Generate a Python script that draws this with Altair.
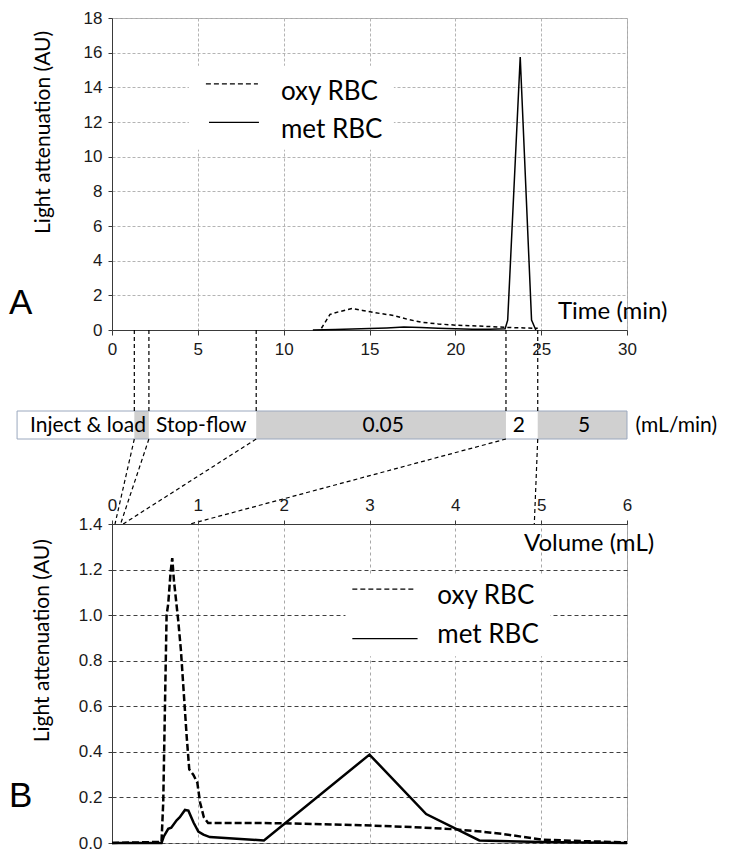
import altair as alt
import pandas as pd

# ---------------- values ----------------
# Panel A : light attenuation (AU) against time (min)
a_oxy_time = [12.2, 12.7, 13.2, 14.0, 14.6, 15.3, 16.4, 17.2, 18.0, 19.0, 20.0, 21.0, 22.0, 23.0, 24.0, 24.8]
a_oxy_att = [0.10, 0.90, 1.05, 1.24, 1.13, 1.00, 0.84, 0.62, 0.45, 0.35, 0.28, 0.24, 0.20, 0.15, 0.12, 0.10]
a_met_time = [11.7, 13.0, 15.0, 16.0, 17.0, 18.0, 19.0, 20.0, 21.0, 22.0, 22.9, 23.05, 23.78, 24.44, 24.69]
a_met_att = [0.00, 0.03, 0.08, 0.12, 0.17, 0.15, 0.10, 0.07, 0.05, 0.05, 0.07, 0.57, 15.75, 0.57, 0.00]

# Panel B : light attenuation (AU) against volume (mL)
b_oxy_vol = [0.0, 0.577, 0.597, 0.636, 0.655, 0.683, 0.702, 0.722, 0.772, 0.803, 0.87, 0.90,
             0.947, 0.994, 1.026, 1.07, 1.12, 2.0, 2.9, 3.5, 4.0, 4.3, 4.55, 5.0, 5.5, 6.0]
b_oxy_att = [0.0, 0.005, 0.18, 1.00, 1.05, 1.19, 1.25, 1.15, 0.975, 0.845, 0.468, 0.323,
             0.30, 0.265, 0.178, 0.113, 0.088, 0.087, 0.078, 0.07, 0.06, 0.05, 0.04, 0.015, 0.008, 0.003]
b_met_vol = [0.0, 0.577, 0.605, 0.655, 0.69, 0.753, 0.79, 0.85, 0.89, 0.95, 1.006, 1.065,
             1.14, 1.77, 3.0, 3.66, 4.28, 5.0, 6.0]
b_met_att = [0.0, 0.0, 0.03, 0.062, 0.067, 0.10, 0.113, 0.145, 0.142, 0.09, 0.05, 0.037,
             0.026, 0.011, 0.388, 0.127, 0.011, 0.004, 0.0]

# Flow programme bar (time, min) and its labels
seg_labels = ["Inject & load", "", "Stop-flow", "0.05", "2", "5"]
seg_start = [-5.53, 1.3, 2.15, 8.4, 22.95, 24.8]
seg_end = [1.3, 2.15, 8.4, 22.95, 24.8, 30.0]
seg_shaded = [False, True, False, True, False, True]
seg_label_time = [-1.4, 1.7, 5.2, 15.8, 23.7, 27.5]
flow_unit = "(mL/min)"

# Connections: phase boundaries on the time axis -> volume axis
link_time = [1.3, 2.15, 8.4, 22.95, 24.8]
link_vol = [0.035, 0.10, 0.13, 0.91, 4.92]

series_names = ["oxy RBC", "met RBC"]
y_title = "Light attenuation (AU)"

# ---------------- layout / style ----------------
W, HA, HM, HB = 515, 312, 194, 319
BAR_TOP, BAR_BOT, BAR_TXT = 81, 109, 102
AX_FONT = "Liberation Sans"
TX_FONT = "Lato"
DARK = "#3a3a3a"
LBL = dict(labelFont=AX_FONT, labelFontSize=17, labelColor="#1a1a1a")

# ================= Panel A =================
xa = alt.Scale(domain=[0, 30], nice=False, zero=False)
ya = alt.Scale(domain=[0, 18], nice=False)
ax_ax = alt.Axis(values=[0, 5, 10, 15, 20, 25, 30], title=None, grid=True, gridColor="#b4b4b4",
                 gridDash=[3, 2], domainColor=DARK, tickColor=DARK, tickSize=5, labelPadding=6,
                 labelFlush=False, **LBL)
ax_ay = alt.Axis(values=list(range(0, 19, 2)), title=None, grid=True, gridColor="#b4b4b4",
                 gridDash=[3, 2], domainColor=DARK, tickColor=DARK, tickSize=4, labelPadding=6, **LBL)
XA = alt.X("t:Q", scale=xa, axis=ax_ax)
YA = alt.Y("v:Q", scale=ya, axis=ax_ay)

a_oxy = alt.Chart(pd.DataFrame({"t": a_oxy_time, "v": a_oxy_att})).mark_line(
    color="black", strokeWidth=1.5, strokeDash=[4, 3]).encode(x=XA, y=YA)
a_met = alt.Chart(pd.DataFrame({"t": a_met_time, "v": a_met_att})).mark_line(
    color="black", strokeWidth=1.5).encode(x=XA, y=YA)

a_leg_bg = alt.Chart(pd.DataFrame({"t": [4.48], "t2": [16.42], "v": [10.4], "v2": [15.25]})).mark_rect(
    fill="white").encode(x=XA, x2="t2", y=YA, y2="v2")
a_leg_dash = alt.Chart(pd.DataFrame({"t": [5.47], "t2": [8.5], "v": [14.2]})).mark_rule(
    color="black", strokeWidth=1.2, strokeDash=[5, 3]).encode(x=XA, x2="t2", y=YA)
a_leg_solid = alt.Chart(pd.DataFrame({"t": [5.65], "t2": [8.56], "v": [11.98]})).mark_rule(
    color="black", strokeWidth=1.2).encode(x=XA, x2="t2", y=YA)
a_leg_txt = alt.Chart(pd.DataFrame({"t": [9.84, 9.84], "v": [13.25, 11.07], "s": series_names})).mark_text(
    align="left", baseline="alphabetic", font=TX_FONT, fontSize=26, color="black").encode(x=XA, y=YA, text="s:N")
a_xlab = alt.Chart(pd.DataFrame({"t": [25.98], "v": [0.65], "s": ["Time (min)"]})).mark_text(
    align="left", baseline="alphabetic", font=TX_FONT, fontSize=24, color="black").encode(x=XA, y=YA, text="s:N")
a_letter = alt.Chart(pd.DataFrame({"t": [-6.0], "v": [0.92], "s": ["A"]})).mark_text(
    align="left", baseline="alphabetic", font=AX_FONT, fontSize=35, color="black").encode(x=XA, y=YA, text="s:N")
a_ytitle = alt.Chart(pd.DataFrame({"t": [-3.96], "v": [11.4], "s": [y_title]})).mark_text(
    align="center", baseline="middle", angle=270, font=TX_FONT, fontSize=21, color="black").encode(
    x=XA, y=YA, text="s:N")

chart_a = alt.layer(a_leg_bg, a_oxy, a_met, a_leg_dash, a_leg_solid, a_leg_txt, a_xlab, a_letter,
                    a_ytitle).properties(width=W, height=HA,
                                         view=alt.ViewBackground(stroke="#a6a6a6", strokeWidth=1))

# ================= Flow programme (middle) =================
xm = alt.Scale(domain=[0, 30], nice=False, zero=False)
ym = alt.Scale(domain=[0, HM], nice=False, zero=False, reverse=True)
XM = alt.X("t:Q", scale=xm, axis=None)

seg_df = pd.DataFrame({"t": seg_start, "t2": seg_end, "shaded": seg_shaded})
m_segs = alt.Chart(seg_df).mark_rect(strokeWidth=0).encode(
    x=XM, x2="t2",
    y=alt.YDatum(BAR_TOP, scale=ym, axis=None), y2=alt.Y2Datum(BAR_BOT),
    fill=alt.condition("datum.shaded", alt.value("#d0d0d0"), alt.value("white")))
m_outline = alt.Chart(pd.DataFrame({"t": [seg_start[0]], "t2": [seg_end[-1]]})).mark_rect(
    fill="transparent", stroke="#9ba8be", strokeWidth=1).encode(
    x=XM, x2="t2", y=alt.YDatum(BAR_TOP, scale=ym, axis=None), y2=alt.Y2Datum(BAR_BOT))
m_txt = alt.Chart(pd.DataFrame({"t": seg_label_time, "s": seg_labels})).mark_text(
    align="center", baseline="alphabetic", font=TX_FONT, fontSize=21, color="black").encode(
    x=XM, y=alt.YDatum(BAR_TXT, scale=ym, axis=None), text="s:N")
m_unit = alt.Chart(pd.DataFrame({"t": [30.5], "s": [flow_unit]})).mark_text(
    align="left", baseline="alphabetic", font=TX_FONT, fontSize=21, color="black").encode(
    x=XM, y=alt.YDatum(BAR_TXT, scale=ym, axis=None), text="s:N")
link_df = pd.DataFrame({"t": link_time, "vol": link_vol})
m_top = alt.Chart(link_df).mark_rule(color="black", strokeWidth=1.2, strokeDash=[4, 3]).encode(
    x=XM, y=alt.YDatum(0, scale=ym, axis=None), y2=alt.Y2Datum(BAR_TOP))
m_bot = alt.Chart(link_df).transform_calculate(tb="datum.vol * 30 / 6").mark_rule(
    color="black", strokeWidth=1.2, strokeDash=[4, 3]).encode(
    x=XM, x2="tb:Q", y=alt.YDatum(BAR_BOT, scale=ym, axis=None), y2=alt.Y2Datum(HM))

chart_m = alt.layer(m_segs, m_outline, m_txt, m_unit, m_top, m_bot).properties(
    width=W, height=HM, view=alt.ViewBackground(stroke="transparent"))

# ================= Panel B =================
xb = alt.Scale(domain=[0, 6], nice=False, zero=False)
yb = alt.Scale(domain=[0, 1.4], nice=False)
ax_bx = alt.Axis(orient="top", values=[0, 1, 2, 3, 4, 5, 6], title=None, grid=True, gridColor="#a8a8a8",
                 gridDash=[3, 3], domainColor=DARK, tickColor=DARK, tickSize=4, labelPadding=6,
                 labelFlush=False, **LBL)
ax_by = alt.Axis(values=[0.0, 0.2, 0.4, 0.6, 0.8, 1.0, 1.2, 1.4], format=".1f", title=None, grid=True,
                 gridColor="#404040", gridDash=[4, 3], domainColor=DARK, tickColor=DARK, tickSize=4,
                 labelPadding=6, **LBL)
XB = alt.X("vol:Q", scale=xb, axis=ax_bx)
YB = alt.Y("att:Q", scale=yb, axis=ax_by)

b_oxy = alt.Chart(pd.DataFrame({"vol": b_oxy_vol, "att": b_oxy_att})).mark_line(
    color="black", strokeWidth=2.5, strokeDash=[7, 3]).encode(x=XB, y=YB)
b_met = alt.Chart(pd.DataFrame({"vol": b_met_vol, "att": b_met_att})).mark_line(
    color="black", strokeWidth=2.5).encode(x=XB, y=YB)
b_leg_bg = alt.Chart(pd.DataFrame({"vol": [2.72], "v2": [5.11], "att": [0.82], "a2": [1.18]})).mark_rect(
    fill="white").encode(x=XB, x2="v2", y=YB, y2="a2")
b_leg_dash = alt.Chart(pd.DataFrame({"vol": [2.8], "v2": [3.54], "att": [1.114]})).mark_rule(
    color="black", strokeWidth=1.2, strokeDash=[5, 3]).encode(x=XB, x2="v2", y=YB)
b_leg_solid = alt.Chart(pd.DataFrame({"vol": [2.8], "v2": [3.56], "att": [0.897]})).mark_rule(
    color="black", strokeWidth=1.2).encode(x=XB, x2="v2", y=YB)
b_leg_txt = alt.Chart(pd.DataFrame({"vol": [3.79, 3.79], "att": [1.05, 0.878], "s": series_names})).mark_text(
    align="left", baseline="alphabetic", font=TX_FONT, fontSize=26, color="black").encode(x=XB, y=YB, text="s:N")
b_xlab = alt.Chart(pd.DataFrame({"vol": [4.8], "att": [1.28], "s": ["Volume (mL)"]})).mark_text(
    align="left", baseline="alphabetic", font=TX_FONT, fontSize=24, color="black").encode(x=XB, y=YB, text="s:N")
b_letter = alt.Chart(pd.DataFrame({"vol": [-1.2], "att": [0.158], "s": ["B"]})).mark_text(
    align="left", baseline="alphabetic", font=AX_FONT, fontSize=35, color="black").encode(x=XB, y=YB, text="s:N")
b_ytitle = alt.Chart(pd.DataFrame({"vol": [-0.805], "att": [0.888], "s": [y_title]})).mark_text(
    align="center", baseline="middle", angle=270, font=TX_FONT, fontSize=21, color="black").encode(
    x=XB, y=YB, text="s:N")

chart_b = alt.layer(b_leg_bg, b_oxy, b_met, b_leg_dash, b_leg_solid, b_leg_txt, b_xlab, b_letter,
                    b_ytitle).properties(width=W, height=HB,
                                         view=alt.ViewBackground(stroke="#a0a0a0", strokeWidth=1))

chart = alt.vconcat(chart_a, chart_m, chart_b, spacing=0, bounds="flush", padding=0).resolve_scale(
    x="independent", y="independent").configure_axis(domainWidth=1, tickWidth=1)

chart.save("out.html", embed_options={"renderer": "svg", "actions": False})
